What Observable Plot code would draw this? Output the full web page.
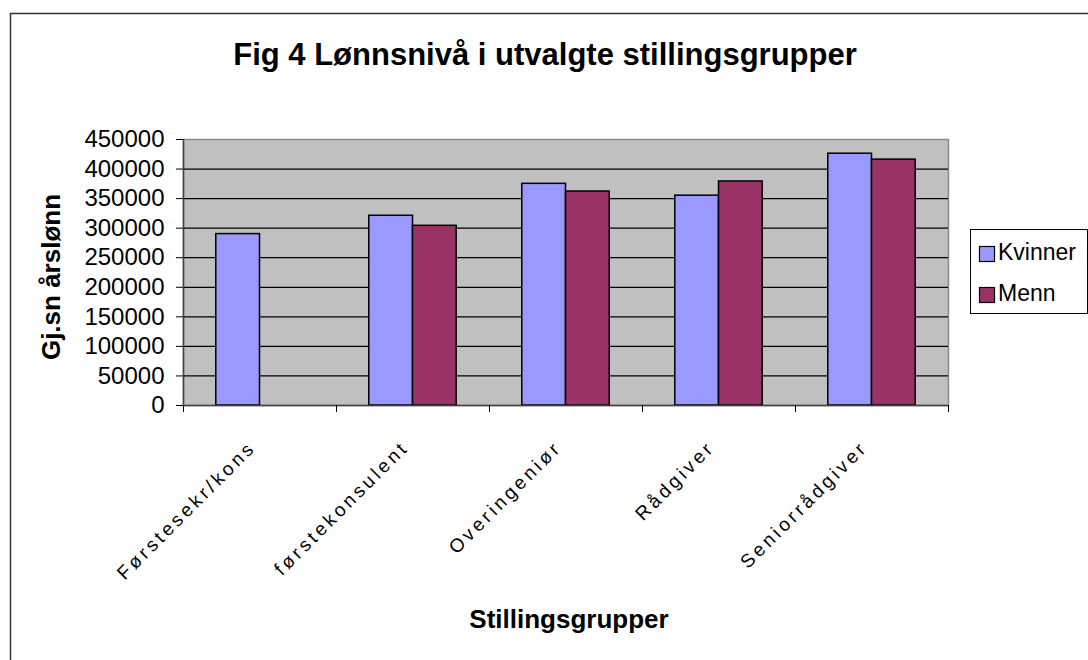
<!DOCTYPE html>
<html>
<head>
<meta charset="utf-8">
<script src="https://cdn.jsdelivr.net/npm/d3@7"></script>
<script src="https://cdn.jsdelivr.net/npm/@observablehq/plot@0.6"></script>
<style>
  html, body { margin: 0; padding: 0; background: #fff; }
  #chart { width: 1088px; height: 660px; position: relative; overflow: hidden; }
  svg { font-family: "Liberation Sans", Arial, sans-serif; }
</style>
</head>
<body>
<div id="chart"></div>
<script>
const categories = ["Førstesekr/kons", "førstekonsulent", "Overingeniør", "Rådgiver", "Seniorrådgiver"];
const kvinner = [290000, 321000, 375000, 355000, 426000];
const menn = [null, 304000, 362000, 379000, 416000];
const seriesNames = ["Kvinner", "Menn"];
const seriesColors = ["#9999FF", "#993366"];
const yTicks = [0, 50000, 100000, 150000, 200000, 250000, 300000, 350000, 400000, 450000];

const barW = 1 / 3.5;
const rows = [];
categories.forEach((c, i) => {
  [kvinner, menn].forEach((arr, s) => {
    if (arr[i] != null) rows.push({cat: c, i, series: seriesNames[s], s, value: arr[i]});
  });
});
const catRows = categories.map((c, i) => ({cat: c, i}));

const FONT = '"Liberation Sans", Arial, sans-serif';

const plot = Plot.plot({
  width: 1088,
  height: 660,
  marginLeft: 183,
  marginRight: 140,
  marginTop: 139,
  marginBottom: 255,
  style: {fontFamily: FONT, background: "transparent", overflow: "visible"},
  x: {type: "linear", domain: [0, categories.length], axis: null},
  y: {domain: [0, 450000], axis: null},
  color: {domain: seriesNames, range: seriesColors},
  marks: [
    Plot.frame({fill: "#C0C0C0", stroke: "#8a8a8a", strokeWidth: 1.5}),
    Plot.ruleY(yTicks.filter(d => d > 0 && d < 450000), {stroke: "#000", strokeWidth: 1.2}),
    Plot.rect(rows, {
      x1: d => d.i + 0.5 + (d.s - 1) * barW,
      x2: d => d.i + 0.5 + d.s * barW,
      y1: 0,
      y2: "value",
      fill: "series",
      stroke: "#000",
      strokeWidth: 1.5
    }),
    Plot.ruleY([0], {stroke: "#404040", strokeWidth: 1.5}),
    Plot.ruleX([0], {stroke: "#404040", strokeWidth: 1.5}),
    Plot.axisY({ticks: yTicks, tickSize: 7, tickPadding: 12, tickFormat: d3.format("d"), fontSize: 24, label: null, stroke: "#000", fill: "#000"}),
    Plot.axisX({ticks: d3.range(0, categories.length + 1), tickSize: 7, tickFormat: () => "", label: null, stroke: "#000"}),
    Plot.text(catRows, {
      x: d => d.i + 0.5,
      y: 0,
      text: "cat",
      rotate: -45,
      textAnchor: "end",
      lineAnchor: "bottom",
      dx: -3,
      dy: 43,
      fontSize: 19,
      fill: "#000"
    })
  ]
});

document.getElementById("chart").appendChild(plot);

// letter spacing on category labels to mimic the source rendering
plot.querySelectorAll('g[aria-label="text"] text').forEach(t => { t.style.letterSpacing = "3.4px"; });

const svg = d3.select(plot);

// outer chart border (top & left visible)
svg.append("path")
  .attr("d", "M10.5,1100 L10.5,13.5 L1200,13.5")
  .attr("fill", "none").attr("stroke", "#333").attr("stroke-width", 1.5);

// title
svg.append("text")
  .attr("x", 545).attr("y", 65)
  .attr("text-anchor", "middle")
  .attr("font-family", FONT).attr("font-weight", "bold").attr("font-size", 31)
  .attr("fill", "#000")
  .text("Fig 4 Lønnsnivå i utvalgte stillingsgrupper");

// x axis title
svg.append("text")
  .attr("x", 569).attr("y", 628)
  .attr("text-anchor", "middle")
  .attr("font-family", FONT).attr("font-weight", "bold").attr("font-size", 26)
  .attr("fill", "#000")
  .text("Stillingsgrupper");

// y axis title
svg.append("text")
  .attr("transform", "translate(60,277) rotate(-90)")
  .attr("text-anchor", "middle")
  .attr("font-family", FONT).attr("font-weight", "bold").attr("font-size", 26)
  .attr("fill", "#000")
  .text("Gj.sn årslønn");

// legend
const lg = svg.append("g");
lg.append("rect")
  .attr("x", 970.5).attr("y", 229.5).attr("width", 117).attr("height", 84)
  .attr("fill", "#fff").attr("stroke", "#000").attr("stroke-width", 1);
seriesNames.forEach((name, k) => {
  const y0 = 246 + k * 41;
  lg.append("rect")
    .attr("x", 979.5).attr("y", y0 + 0.5).attr("width", 15).attr("height", 15)
    .attr("fill", seriesColors[k]).attr("stroke", "#000").attr("stroke-width", 1.2);
  lg.append("text")
    .attr("x", 998).attr("y", y0 + 14)
    .attr("text-anchor", "start")
    .attr("font-family", FONT).attr("font-size", 23)
    .attr("fill", "#000")
    .text(name);
});
</script>
</body>
</html>
